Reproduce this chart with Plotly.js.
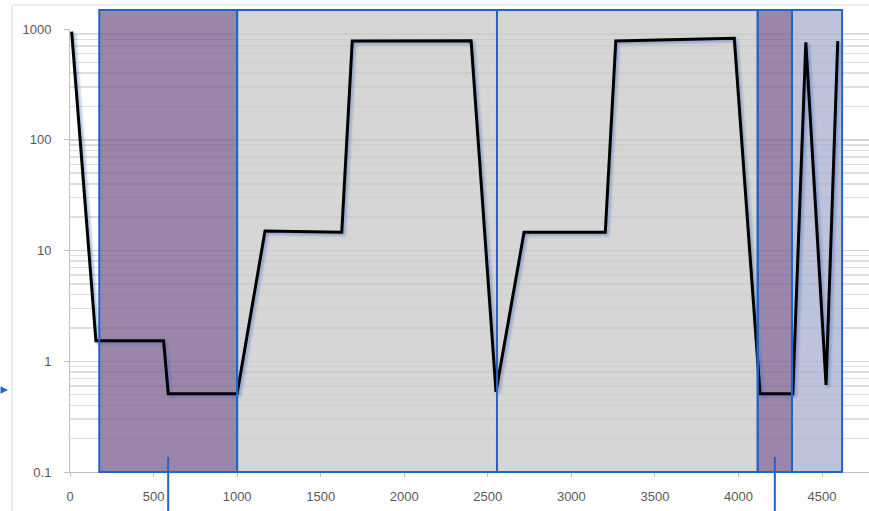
<!DOCTYPE html>
<html>
<head>
<meta charset="utf-8">
<script src="https://cdn.plot.ly/plotly-3.0.1.min.js"></script>
<style>
  html, body { margin: 0; padding: 0; background: #ffffff; }
  #chart { width: 869px; height: 511px; }
</style>
</head>
<body>
<div id="chart"></div>
<script>
// ---- data ----
var lineX = [10, 155, 560, 588, 1000, 1167, 1626, 1689, 2400, 2549, 2717, 3203, 3266, 3975, 4129, 4325, 4403, 4524, 4594];
var lineY = [946, 1.53, 1.53, 0.51, 0.51, 15.0, 14.6, 780, 784, 0.53, 14.6, 14.6, 780, 824, 0.51, 0.51, 759, 0.61, 780];

// shaded regions (start, end, kind)
var bandStart = [175, 1000, 2555, 4115, 4320];
var bandEnd   = [1000, 2555, 4115, 4320, 4620];
var bandKind  = ['purple', 'gray', 'gray', 'purple', 'blue'];

var xTickVals = [0, 500, 1000, 1500, 2000, 2500, 3000, 3500, 4000, 4500];
var yTickVals = [0.1, 1, 10, 100, 1000];
var yTickText = ['0.1', '1', '10', '100', '1000'];

// ---- styles ----
var bandFill = {
  purple: 'rgba(122,94,142,0.75)',
  gray:   'rgba(200,200,200,0.75)',
  blue:   'rgba(166,175,207,0.75)'
};
var bandSolid = {
  purple: 'rgb(155,134,170)',
  gray:   'rgb(214,214,214)',
  blue:   'rgb(188,195,219)'
};
var blue = '#1f66c8';

// minor gridlines on the log axis (2..9 in each decade)
var minorVals = [];
for (var d = 0; d < yTickVals.length - 1; d++) {
  for (var m = 2; m <= 9; m++) minorVals.push(yTickVals[d] * m);
}

var shapes = [];
// outer chart border
shapes.push({type: 'rect', xref: 'paper', yref: 'paper', x0: -0.0726, x1: 1.2, y0: -0.3, y1: 1.054,
  line: {color: '#d9d9d9', width: 1}, fillcolor: 'rgba(0,0,0,0)', layer: 'below'});
for (var i = 0; i < bandStart.length; i++) {
  // fill inside the plot area, above the gridlines
  shapes.push({
    type: 'rect', xref: 'x', yref: 'y',
    x0: bandStart[i], x1: bandEnd[i], y0: yTickVals[0], y1: yTickVals[yTickVals.length - 1],
    fillcolor: bandFill[bandKind[i]], line: {width: 0}, layer: 'between'
  });
  // part of the band above the plot area
  shapes.push({
    type: 'rect', xref: 'x', yref: 'paper',
    x0: bandStart[i], x1: bandEnd[i], y0: 1, y1: 1.043,
    fillcolor: bandSolid[bandKind[i]], line: {width: 0}, layer: 'below'
  });
  // outline
  shapes.push({
    type: 'rect', xref: 'x', yref: 'paper',
    x0: bandStart[i], x1: bandEnd[i], y0: 0, y1: 1.043,
    fillcolor: 'rgba(0,0,0,0)', line: {color: blue, width: 2}, layer: 'above'
  });
}
// pointer lines under the purple bands
for (var j = 0; j < bandStart.length; j++) {
  if (bandKind[j] === 'purple') {
    var cx = (bandStart[j] + bandEnd[j]) / 2;
    shapes.push({type: 'line', xref: 'x', yref: 'paper', x0: cx, x1: cx, y0: 0.034, y1: -0.1,
      line: {color: blue, width: 2}, layer: 'above'});
  }
}

var traces = [{
  x: lineX, y: lineY, type: 'scatter', mode: 'lines',
  line: {color: '#000000', width: 3, shape: 'linear'},
  hoverinfo: 'skip', showlegend: false
}];

var layout = {
  width: 869, height: 511,
  margin: {l: 70, r: 0, t: 29, b: 39},
  paper_bgcolor: '#ffffff', plot_bgcolor: '#ffffff',
  font: {family: 'Liberation Sans, Arial, sans-serif', size: 13, color: '#595959'},
  showlegend: false,
  xaxis: {
    range: [0, 4781],
    tickvals: xTickVals, tickformat: 'd',
    showgrid: false, zeroline: false,
    showline: true, linecolor: '#bfbfbf', linewidth: 1,
    ticks: 'outside', ticklen: 4, tickcolor: '#bfbfbf',
    ticklabelstandoff: 8
  },
  yaxis: {
    type: 'log', range: [-1, 3],
    tickvals: yTickVals, ticktext: yTickText,
    showgrid: true, gridcolor: '#d4d4d4', gridwidth: 1.5,
    zeroline: false,
    showline: true, linecolor: '#bfbfbf', linewidth: 1,
    ticks: 'outside', ticklen: 5, tickcolor: '#bfbfbf',
    ticklabelstandoff: 10,
    minor: {tickvals: minorVals, showgrid: true, gridcolor: '#dedede', gridwidth: 1.5, ticks: ''}
  },
  shapes: shapes,
  annotations: [{
    xref: 'paper', yref: 'paper', x: -0.0776, y: 0.185,
    text: '', showarrow: true, arrowhead: 2, arrowsize: 1, arrowwidth: 1.5,
    arrowcolor: blue, ax: -14, ay: 0, standoff: 0
  }]
};

Plotly.newPlot('chart', traces, layout, {displayModeBar: false, staticPlot: true}).then(function () {
  var paths = document.querySelectorAll('.scatterlayer .js-line');
  paths.forEach(function (p) {
    p.style.filter = 'drop-shadow(2px 2px 1.5px rgba(70,110,190,0.55))';
    p.style.strokeLinejoin = 'miter';
  });
});
</script>
</body>
</html>
